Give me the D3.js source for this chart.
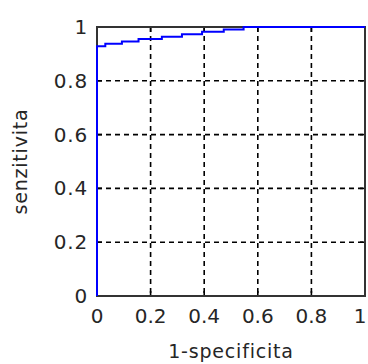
<!DOCTYPE html>
<html>
<head>
<meta charset="utf-8">
<script src="https://cdn.jsdelivr.net/npm/d3@7"></script>
<style>
  html, body { margin: 0; padding: 0; background: #fff; }
  svg { display: block; }
  text { font-family: "DejaVu Sans", sans-serif; fill: #262626; }
</style>
</head>
<body>
<svg id="chart" width="368" height="364"></svg>
<script>
// ROC curve values (1-specificity, sensitivity), step points
const fpr = [0, 0, 0.031, 0.093, 0.155, 0.242, 0.317, 0.392, 0.473, 0.547, 1];
const tpr = [0, 0.928, 0.938, 0.946, 0.955, 0.964, 0.973, 0.982, 0.991, 1.0, 1.0];
const xTicks = [0, 0.2, 0.4, 0.6, 0.8, 1];
const yTicks = [0, 0.2, 0.4, 0.6, 0.8, 1];
const xLabel = "1-specificita";
const yLabel = "senzitivita";

const W = 368, H = 364;
const m = { left: 97, right: 3, top: 27, bottom: 68 };
const svg = d3.select("#chart");
const x = d3.scaleLinear().domain([0, 1]).range([m.left, W - m.right]);
const y = d3.scaleLinear().domain([0, 1]).range([H - m.bottom, m.top]);
const fmt = d => String(d);

// grid
const g = svg.append("g");
g.selectAll(".gx").data(xTicks.filter(d => d > 0 && d < 1)).join("line")
  .attr("x1", d => x(d)).attr("x2", d => x(d))
  .attr("y1", y(1)).attr("y2", y(0))
  .attr("stroke", "#000").attr("stroke-width", 1.6).attr("stroke-dasharray", "5,4");
g.selectAll(".gy").data(yTicks.filter(d => d > 0 && d < 1)).join("line")
  .attr("x1", x(0)).attr("x2", x(1))
  .attr("y1", d => y(d)).attr("y2", d => y(d))
  .attr("stroke", "#000").attr("stroke-width", 1.6).attr("stroke-dasharray", "5,4");

// inward ticks on all four sides
const tl = 5;
xTicks.forEach(d => {
  g.append("line").attr("x1", x(d)).attr("x2", x(d)).attr("y1", y(0)).attr("y2", y(0) - tl)
    .attr("stroke", "#000").attr("stroke-width", 1.6);
  g.append("line").attr("x1", x(d)).attr("x2", x(d)).attr("y1", y(1)).attr("y2", y(1) + tl)
    .attr("stroke", "#000").attr("stroke-width", 1.6);
});
yTicks.forEach(d => {
  g.append("line").attr("x1", x(0)).attr("x2", x(0) + tl).attr("y1", y(d)).attr("y2", y(d))
    .attr("stroke", "#000").attr("stroke-width", 1.6);
  g.append("line").attr("x1", x(1)).attr("x2", x(1) - tl).attr("y1", y(d)).attr("y2", y(d))
    .attr("stroke", "#000").attr("stroke-width", 1.6);
});

// box
g.append("rect").attr("x", x(0)).attr("y", y(1))
  .attr("width", x(1) - x(0)).attr("height", y(0) - y(1))
  .attr("fill", "none").attr("stroke", "#333").attr("stroke-width", 2);

// curve
const pts = fpr.map((v, i) => [v, tpr[i]]);
const line = d3.line().x(d => x(d[0])).y(d => y(d[1])).curve(d3.curveStepAfter);
g.append("path").datum(pts).attr("d", line)
  .attr("fill", "none").attr("stroke", "#0000ff").attr("stroke-width", 2);

// tick labels
g.selectAll(".xl").data(xTicks).join("text")
  .attr("x", d => x(d) - (d === 1 ? 5 : 0)).attr("y", y(0) + 27)
  .attr("text-anchor", "middle").attr("font-size", 20)
  .text(fmt);
g.selectAll(".yl").data(yTicks).join("text")
  .attr("x", x(0) - 9).attr("y", d => y(d) + 7)
  .attr("text-anchor", "end").attr("font-size", 20).attr("letter-spacing", 0.8)
  .text(fmt);

// axis labels
svg.append("text").attr("x", (x(0) + x(1)) / 2).attr("y", H - 6)
  .attr("text-anchor", "middle").attr("font-size", 19).attr("letter-spacing", 0.8).text(xLabel);
svg.append("text")
  .attr("transform", `translate(${27},${(y(0) + y(1)) / 2}) rotate(-90)`)
  .attr("text-anchor", "middle").attr("font-size", 19).attr("letter-spacing", 0.8).text(yLabel);
</script>
</body>
</html>
